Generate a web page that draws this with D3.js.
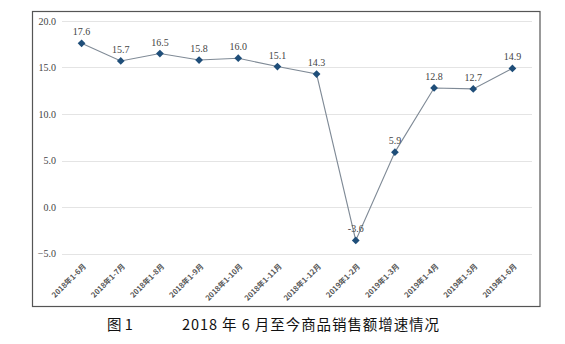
<!DOCTYPE html>
<html><head><meta charset="utf-8">
<script src="https://cdn.jsdelivr.net/npm/d3@7"></script>
<style>body{margin:0;background:#fff}svg{display:block}</style>
</head><body>
<svg id="c" width="565" height="344"></svg>
<script>
const categories = ["2018年1-6月","2018年1-7月","2018年1-8月","2018年1-9月","2018年1-10月","2018年1-11月","2018年1-12月","2019年1-2月","2019年1-3月","2019年1-4月","2019年1-5月","2019年1-6月"];
const values = [17.6, 15.7, 16.5, 15.8, 16.0, 15.1, 14.3, -3.6, 5.9, 12.8, 12.7, 14.9];
const yTicks = [-5, 0, 5, 10, 15, 20];
const caption = ["图 1", "2018 年 6 月至今商品销售额增速情况"];

const svg = d3.select("#c");
const x = d3.scaleBand().domain(categories).range([62, 532]);
const y = d3.scaleLinear().domain([-5, 20]).range([253.5, 21]);

// frame
svg.append("rect").attr("x", 32.5).attr("y", 11.5).attr("width", 507.5).attr("height", 295)
  .attr("fill", "#fff").attr("stroke", "#555").attr("stroke-width", 1.2);

// grid
svg.append("g").selectAll("line").data(yTicks).join("line")
  .attr("x1", 62).attr("x2", 532)
  .attr("y1", d => Math.round(y(d)) + 0.5).attr("y2", d => Math.round(y(d)) + 0.5)
  .attr("stroke", "#e4e4e4").attr("stroke-width", 1);

// y axis labels
const yAxis = d3.axisLeft(y).tickValues(yTicks).tickFormat(d3.format(".1f")).tickSize(0).tickPadding(0);
const ga = svg.append("g").attr("transform", "translate(56,0)").call(yAxis);
ga.select(".domain").remove();
ga.selectAll("text").attr("font-family", "Liberation Serif, Times New Roman, serif")
  .attr("font-size", 10).attr("fill", "#444");

// x axis labels
const xAxis = d3.axisBottom(x).tickSize(0).tickPadding(0);
const gx = svg.append("g").attr("transform", "translate(3,265)").call(xAxis);
gx.select(".domain").remove();
gx.selectAll("text")
  .attr("font-family", "Noto Sans CJK SC, sans-serif").attr("font-size", 7.5).attr("font-weight", "bold")
  .attr("fill", "#555")
  .attr("text-anchor", "end").attr("dy", "0.35em").attr("dx", 0)
  .attr("transform", "rotate(-45)");

// line
const cx = d => x(d) + x.bandwidth() / 2;
svg.append("path").datum(values)
  .attr("d", d3.line().x((d, i) => cx(categories[i])).y(d => y(d)))
  .attr("fill", "none").attr("stroke", "#7f8a96").attr("stroke-width", 1.1);

// markers
svg.append("g").selectAll("path").data(values).join("path")
  .attr("d", d3.symbol().type(d3.symbolSquare).size(30))
  .attr("transform", (d, i) => `translate(${cx(categories[i])},${y(d)}) rotate(45)`)
  .attr("fill", "#1f4e79");

// data labels
svg.append("g").selectAll("text").data(values).join("text")
  .attr("x", (d, i) => cx(categories[i]))
  .attr("y", d => y(d) - 8)
  .attr("text-anchor", "middle")
  .attr("font-family", "Liberation Serif, Times New Roman, serif").attr("font-size", 10)
  .attr("fill", "#444")
  .text(d => d.toFixed(1));

// caption
svg.append("text").attr("x", 107).attr("y", 330)
  .attr("font-family", "Noto Sans CJK SC, sans-serif").attr("font-size", 14.5).attr("fill", "#111")
  .text(caption[0]);
svg.append("text").attr("x", 182).attr("y", 330)
  .attr("font-family", "Noto Sans CJK SC, sans-serif").attr("font-size", 14.5).attr("fill", "#111")
  .attr("textLength", 257).attr("lengthAdjust", "spacing")
  .text(caption[1]);
</script>
</body></html>
